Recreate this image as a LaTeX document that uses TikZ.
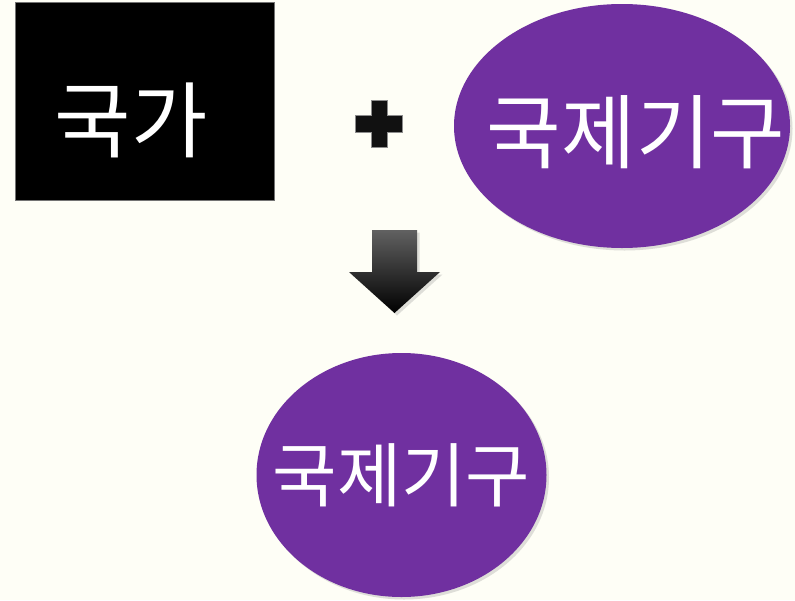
\documentclass[tikz,border=0pt]{standalone}
\usepackage{fontspec}
\newfontfamily\krfont{Noto Sans CJK KR}
\usetikzlibrary{shapes.geometric}
\usetikzlibrary{shadows}
\definecolor{paper}{RGB}{254,254,246}
\definecolor{orgpurple}{RGB}{112,48,160}
\definecolor{plusgrey}{RGB}{17,17,17}
\tikzstyle{base}=[x=1pt, y=-1pt]
\tikzstyle{blob}=[ellipse, fill=orgpurple, inner sep=0pt, outer sep=0pt,
  drop shadow={shadow xshift=2.5pt, shadow yshift=-2.5pt, opacity=0.25}]
\tikzstyle{word}=[text=white, inner sep=0pt, outer sep=0pt]
\begin{document}
\begin{tikzpicture}[base]
    \fill [paper] (0,0) rectangle (795,600);
    \useasboundingbox (0,0) rectangle (795,600);
    % left box
    \node [rectangle, fill=black, draw=black!55, line width=0.4pt, inner sep=0pt,
      minimum width=259pt, minimum height=198pt] (nation) at (144.5,101) {};
    \node [word, font=\krfont\fontsize{83}{83}\selectfont] (nationtext) at (131,120) {국가};
    % plus sign
    \draw [fill=plusgrey, draw=black!45, line width=0.5pt]
      (371,100) -- (387,100) -- (387,115) -- (402,115) -- (402,132) -- (387,132)
      -- (387,147) -- (371,147) -- (371,132) -- (355,132) -- (355,115) -- (371,115) -- cycle;
    % right ellipse
    \node [blob, minimum width=336pt, minimum height=244pt] (org) at (622,126) {};
    \node [word, font=\krfont\fontsize{81}{81}\selectfont] (orgtext) at (636,132) {국제기구};
    % down arrow
    \path [top color=black!62, middle color=black, bottom color=black,
      drop shadow={shadow xshift=2.5pt, shadow yshift=-2.5pt, opacity=0.25}]
      (372,230) -- (417,230) -- (417,272) -- (440,272) -- (394.5,313) -- (349,272) -- (372,272) -- cycle;
    % result ellipse
    \node [blob, minimum width=290pt, minimum height=244pt] (result) at (401.5,475) {};
    \node [word, font=\krfont\fontsize{70}{70}\selectfont] (resulttext) at (401.5,475) {국제기구};
\end{tikzpicture}
\end{document}
